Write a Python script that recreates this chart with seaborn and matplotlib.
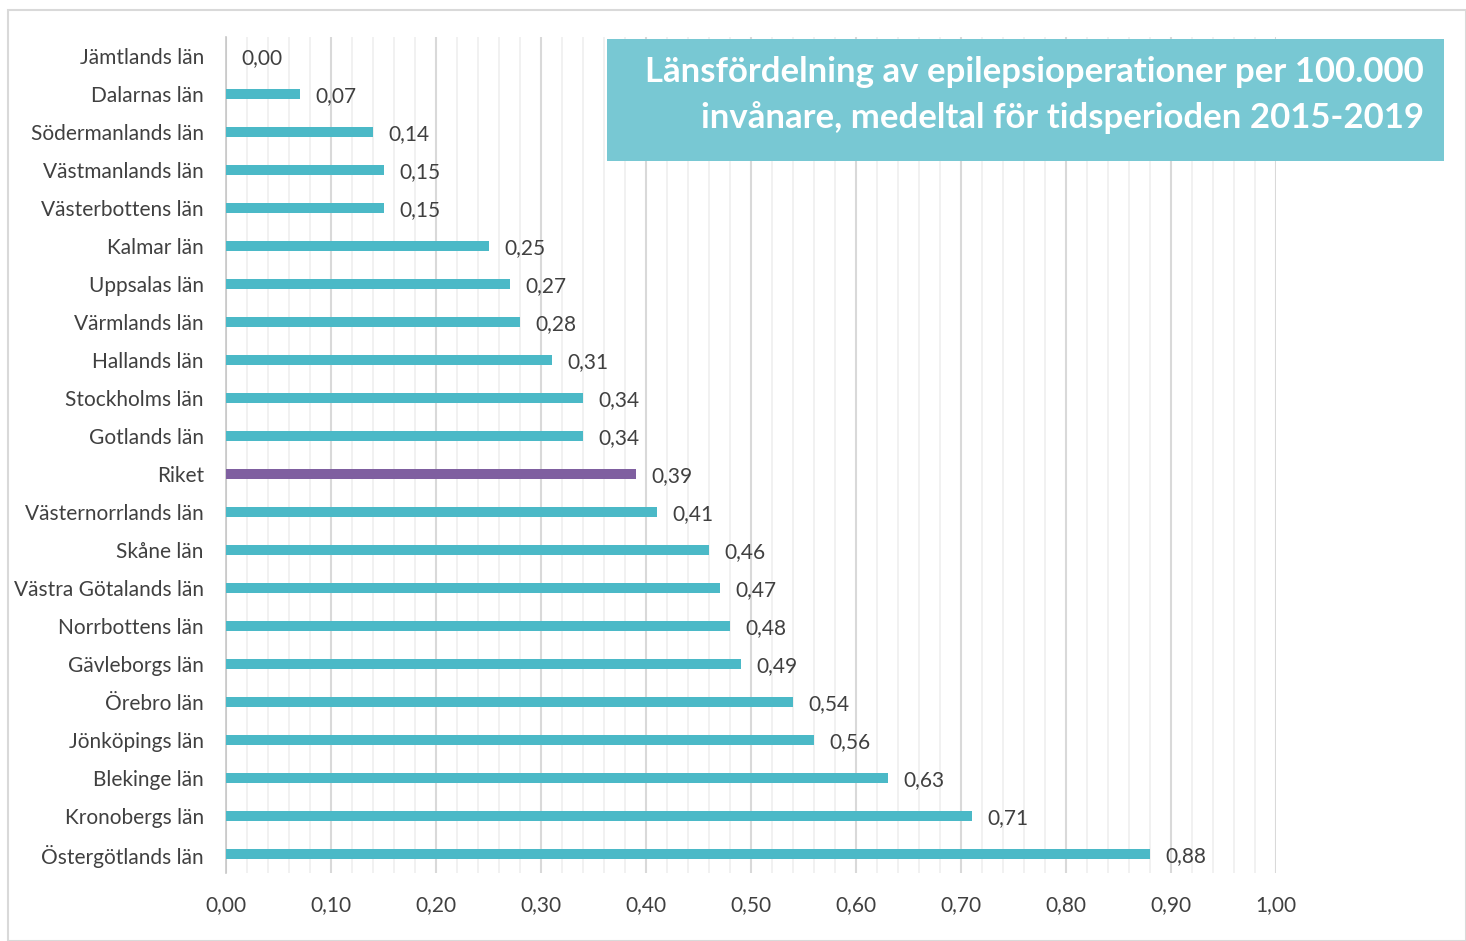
import seaborn as sns
import matplotlib.pyplot as plt
from matplotlib.patches import Rectangle
from matplotlib.ticker import MultipleLocator, FixedLocator
import pandas as pd

lan = ['Jämtlands län', 'Dalarnas län', 'Södermanlands län', 'Västmanlands län',
       'Västerbottens län', 'Kalmar län', 'Uppsalas län', 'Värmlands län',
       'Hallands län', 'Stockholms län', 'Gotlands län', 'Riket',
       'Västernorrlands län', 'Skåne län', 'Västra Götalands län', 'Norrbottens län',
       'Gävleborgs län', 'Örebro län', 'Jönköpings län', 'Blekinge län',
       'Kronobergs län', 'Östergötlands län']
varden = [0.00, 0.07, 0.14, 0.15, 0.15, 0.25, 0.27, 0.28, 0.31, 0.34, 0.34, 0.39,
          0.41, 0.46, 0.47, 0.48, 0.49, 0.54, 0.56, 0.63, 0.71, 0.88]

df = pd.DataFrame({'lan': lan, 'varde': varden})

TURKOS = '#4bb9c7'
LILA = '#7f5fa0'
TEXT = '#404040'
palett = {l: (LILA if l == 'Riket' else TURKOS) for l in lan}

sns.set_style('white')
plt.rcParams['font.family'] = ['Lato', 'DejaVu Sans']

fig = plt.figure(figsize=(14.66, 9.41), dpi=100)
ax = fig.add_axes([226 / 1466, 1 - 873 / 941, 1050 / 1466, 836 / 941])

sns.barplot(data=df, x='varde', y='lan', hue='lan', palette=palett, legend=False,
            orient='h', width=0.27, saturation=1, linewidth=0, ax=ax, zorder=3)

ax.set_xlim(0, 1.0)
ax.set_ylim(len(lan) - 0.5, -0.5)
ax.set_xlabel('')
ax.set_ylabel('')

# rutnät: huvudlinjer var 0,10 och tunnare var 0,02
ax.xaxis.set_major_locator(MultipleLocator(0.1))
ax.xaxis.set_minor_locator(MultipleLocator(0.02))
ax.grid(axis='x', which='major', color='#d9d9d9', linewidth=1.5, zorder=0)
ax.grid(axis='x', which='minor', color='#efefef', linewidth=1.2, zorder=0)
ax.set_axisbelow(True)

ax.set_xticks([i / 10 for i in range(11)])
ax.set_xticklabels([f'{i / 10:.2f}'.replace('.', ',') for i in range(11)])
ax.tick_params(axis='x', which='both', length=0, pad=16, labelsize=15, labelcolor=TEXT)

ax.yaxis.set_minor_locator(FixedLocator([i - 0.5 for i in range(len(lan) + 1)]))
ax.tick_params(axis='y', which='major', length=0, pad=16, labelsize=15, labelcolor=TEXT)
ax.tick_params(axis='y', which='minor', length=5, color='#c8c8c8', width=1.2)

for s in ['top', 'right', 'bottom']:
    ax.spines[s].set_visible(False)
ax.spines['left'].set_color('#c8c8c8')
ax.spines['left'].set_linewidth(1.2)

# värden efter staplarna
for i, v in enumerate(varden):
    ax.text(v + 0.015, i + 0.05, f'{v:.2f}'.replace('.', ','), ha='left', va='center',
            fontsize=15, color=TEXT, zorder=4)

# rubrikruta
fig.patches.append(Rectangle((607 / 1466, 1 - 161 / 941), 837 / 1466, 122 / 941,
                             transform=fig.transFigure, facecolor='#78c8d3',
                             edgecolor='none', zorder=5))
fig.text(1424 / 1466, 1 - 95 / 941,
         'Länsfördelning av epilepsioperationer per 100.000\ninvånare, medeltal för tidsperioden 2015-2019',
         ha='right', va='center', fontsize=25, fontweight='bold', color='white',
         linespacing=1.47, zorder=6)

# ram runt diagrammet
fig.patches.append(Rectangle((8 / 1466, 0), 1 - 8 / 1466, 1 - 10 / 941,
                             transform=fig.transFigure, facecolor='none',
                             edgecolor='#d9d9d9', linewidth=1.5, zorder=1))

fig.savefig('out.png', dpi=100)
